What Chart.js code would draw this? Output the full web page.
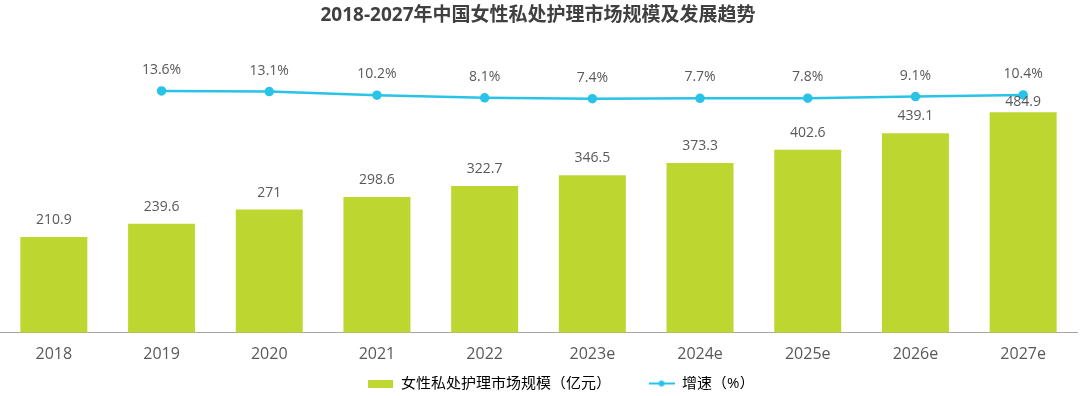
<!DOCTYPE html>
<html>
<head>
<meta charset="utf-8">
<script src="https://cdn.jsdelivr.net/npm/chart.js@4"></script>
<style>
  html, body { margin: 0; padding: 0; background: #ffffff; }
  #box { width: 1080px; height: 396px; }
</style>
</head>
<body>
<div id="box"><canvas id="myChart"></canvas></div>
<script>
const years = ["2018", "2019", "2020", "2021", "2022", "2023e", "2024e", "2025e", "2026e", "2027e"];
const marketSize = [210.9, 239.6, 271, 298.6, 322.7, 346.5, 373.3, 402.6, 439.1, 484.9];
const growthRate = [null, 13.6, 13.1, 10.2, 8.1, 7.4, 7.7, 7.8, 9.1, 10.4];
const seriesNames = ["女性私处护理市场规模（亿元）", "增速（%）"];

const GREEN = "#BED730";
const CYAN = "#2AC3E8";
const FONT = "'Open Sans', 'Noto Sans CJK SC', sans-serif";

// little pictures used as legend markers
function makeMarker(w, h, draw) {
  const c = document.createElement("canvas");
  c.width = w;
  c.height = h;
  draw(c.getContext("2d"));
  return c;
}
const barMarker = makeMarker(25, 8, (g) => {
  g.fillStyle = GREEN;
  g.fillRect(0, 0, 25, 8);
});
const lineMarker = makeMarker(26, 8, (g) => {
  g.strokeStyle = CYAN;
  g.lineWidth = 2;
  g.beginPath();
  g.moveTo(0, 4);
  g.lineTo(26, 4);
  g.stroke();
  g.fillStyle = CYAN;
  g.beginPath();
  g.arc(13, 4, 3, 0, Math.PI * 2);
  g.fill();
});

// draws the numbers above bars and points
const valueLabels = {
  id: "valueLabels",
  afterDatasetsDraw(chart) {
    const ctx = chart.ctx;
    ctx.save();
    ctx.textAlign = "center";
    ctx.textBaseline = "middle";
    ctx.font = "14px " + FONT;
    ctx.fillStyle = "#595959";
    chart.getDatasetMeta(0).data.forEach((bar, i) => {
      const shift = i === marketSize.length - 1 ? 10 : 17;
      ctx.fillText(String(marketSize[i]), bar.x, bar.y - shift);
    });
    chart.getDatasetMeta(1).data.forEach((pt, i) => {
      if (growthRate[i] == null) return;
      ctx.fillText(growthRate[i].toFixed(1) + "%", pt.x, pt.y - 21);
    });
    ctx.restore();
  },
};

// the legend in the original sits a bit right of centre
const legendShift = {
  id: "legendShift",
  afterLayout(chart) {
    chart.legend.left += 23;
    chart.legend.right += 23;
  },
};

function myLoadFunction() {
  const ctx = document.getElementById("myChart").getContext("2d");
  var myChartConfig = {
    type: "bar",
    data: {
      labels: years,
      datasets: [
        {
          label: seriesNames[0],
          data: marketSize,
          backgroundColor: GREEN,
          barPercentage: 0.622,
          categoryPercentage: 1,
          yAxisID: "y",
          order: 2,
        },
        {
          type: "line",
          label: seriesNames[1],
          data: growthRate,
          borderColor: CYAN,
          backgroundColor: CYAN,
          borderWidth: 2.5,
          pointRadius: 3.5,
          pointHoverRadius: 3.5,
          tension: 0,
          clip: false,
          yAxisID: "y1",
          order: 1,
        },
      ],
    },
    options: {
      responsive: true,
      maintainAspectRatio: false,
      animation: false,
      layout: { autoPadding: false, padding: { left: -1, right: 3, top: 0, bottom: -5 } },
      plugins: {
        title: {
          display: true,
          text: "2018-2027年中国女性私处护理市场规模及发展趋势",
          color: "#404040",
          font: { family: FONT, size: 19, weight: "bold" },
          padding: { top: 4.6, bottom: 32.6 },
        },
        legend: {
          position: "bottom",
          labels: {
            usePointStyle: true,
            pointStyleWidth: 26,
            padding: 0,
            color: "#595959",
            font: { family: FONT, size: 15 },
            generateLabels: () => [
              { text: seriesNames[0] + "\u3000\u3000\u3000", pointStyle: barMarker, fillStyle: GREEN, strokeStyle: GREEN, lineWidth: 0, hidden: false, datasetIndex: 0 },
              { text: seriesNames[1], pointStyle: lineMarker, fillStyle: CYAN, strokeStyle: CYAN, lineWidth: 0, hidden: false, datasetIndex: 1 },
            ],
          },
        },
        tooltip: { enabled: false },
      },
      scales: {
        x: {
          grid: { display: false, drawTicks: false },
          border: { display: true, color: "#a6a6a6", width: 1 },
          ticks: { color: "#595959", font: { family: FONT, size: 16 }, padding: 12 },
        },
        y: { display: false, min: 0, max: 600 },
        y1: { display: false, min: -181, max: 38.5 },
      },
    },
    plugins: [valueLabels, legendShift],
  };
  const myChart = new Chart(ctx, myChartConfig);
}

document.addEventListener("DOMContentLoaded", myLoadFunction);
</script>
</body>
</html>
